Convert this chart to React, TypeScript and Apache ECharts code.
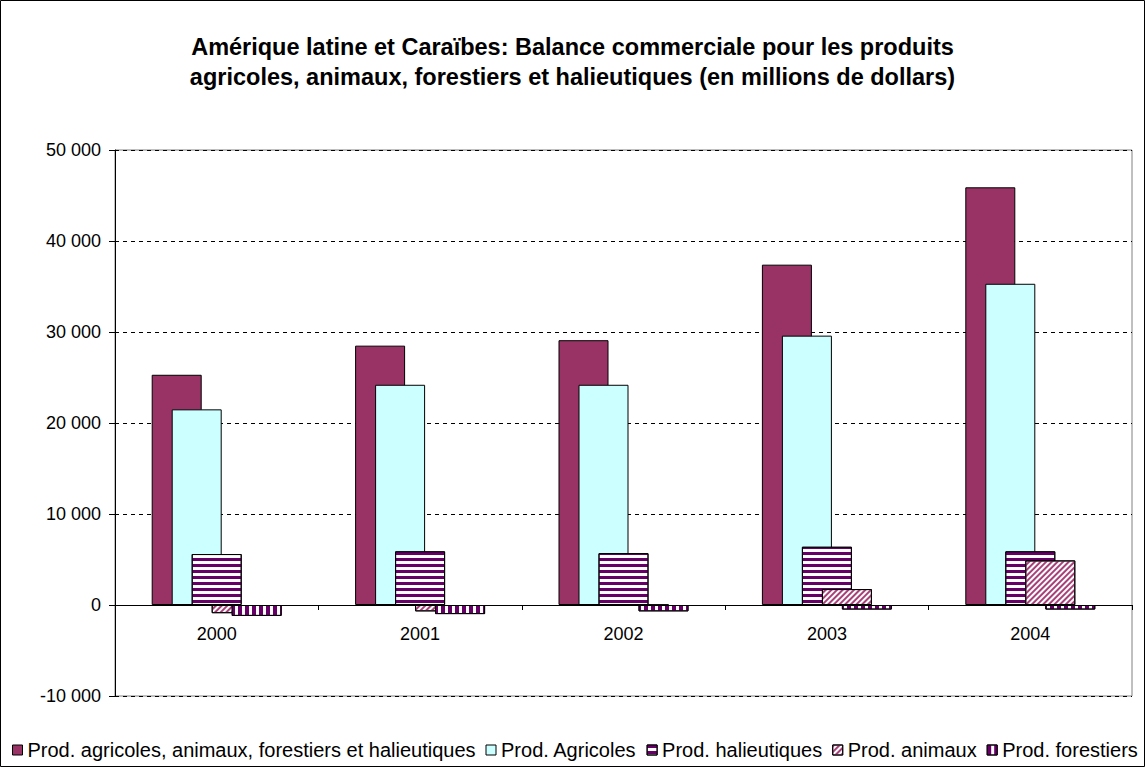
import React, { useEffect, useRef } from "react";
import * as echarts from "echarts";

const years = ["2000", "2001", "2002", "2003", "2004"];
const totalProducts = [25300, 28500, 29100, 37400, 45900];
const agricultural = [21500, 24200, 24200, 29600, 35300];
const fisheries = [5600, 5900, 5700, 6400, 5900];
const animal = [-900, -700, 0, 1750, 4900];
const forestry = [-1200, -1000, -700, -500, -500];

const seriesNames = [
  "Prod. agricoles, animaux, forestiers et halieutiques",
  "Prod. Agricoles",
  "Prod. halieutiques",
  "Prod. animaux",
  "Prod. forestiers",
];

const yMin = -10000;
const yMax = 50000;
const yStep = 10000;

const FONT = "'Liberation Sans', Arial, sans-serif";

function fmt(v: number): string {
  const s = Math.abs(v).toString().replace(/\B(?=(\d{3})+(?!\d))/g, " ");
  return (v < 0 ? "-" : "") + s;
}

export default function App() {
  const ref = useRef<HTMLDivElement>(null);
  useEffect(() => {
    if (!ref.current) return;
    const chart = echarts.init(ref.current, null, { renderer: "svg" });
    const border = { borderColor: "#000", borderWidth: 1 };
    const base = {
      type: "bar" as const,
      barWidth: 50,
      barGap: "-60%",
    };
    chart.setOption({
      animation: false,
      backgroundColor: "#fff",
      title: {
        text:
          "Amérique latine et Caraïbes: Balance commerciale pour les produits\nagricoles, animaux, forestiers et halieutiques (en millions de dollars)",
        left: "center",
        top: 27,
        textStyle: {
          fontFamily: FONT,
          fontSize: 23.5,
          fontWeight: "bold",
          color: "#000",
          lineHeight: 30,
        },
      },
      graphic: [
        {
          type: "rect",
          shape: { x: 0.5, y: 0.5, width: 1144, height: 766 },
          style: { fill: "none", stroke: "#000", lineWidth: 1 },
          silent: true,
        },
      ],
      legend: {
        left: 7,
        top: 735,
        icon: "rect",
        itemWidth: 10,
        itemHeight: 10,
        itemGap: 10,
        textStyle: { fontFamily: FONT, fontSize: 20, color: "#000" },
        itemStyle: { borderColor: "#000", borderWidth: 1 },
        data: seriesNames,
      },
      grid: {
        left: 115,
        right: 13,
        top: 150,
        bottom: 71,
        show: true,
        borderColor: "#808080",
        borderWidth: 1,
        backgroundColor: "#fff",
      },
      xAxis: {
        type: "category",
        data: years,
        axisLine: { onZero: false, lineStyle: { color: "#000", width: 1 } },
        axisTick: { show: true, length: 5, lineStyle: { color: "#000" } },
        axisLabel: { fontFamily: FONT, fontSize: 18, color: "#000", margin: 20 },
      },
      yAxis: {
        type: "value",
        min: yMin,
        max: yMax,
        interval: yStep,
        axisLine: { show: true, lineStyle: { color: "#000" } },
        axisTick: { show: true, length: 6, lineStyle: { color: "#000" } },
        axisLabel: {
          fontFamily: FONT,
          fontSize: 18,
          color: "#000",
          margin: 14,
          formatter: (v: number) => fmt(v),
        },
        splitLine: { show: true, lineStyle: { color: "#000", type: [4, 4], width: 1 } },
      },
      series: [
        {
          ...base,
          name: seriesNames[0],
          data: totalProducts,
          itemStyle: { color: "#993366", ...border },
        },
        {
          ...base,
          name: seriesNames[1],
          data: agricultural,
          itemStyle: { color: "#CCFFFF", ...border },
        },
        {
          ...base,
          name: seriesNames[2],
          data: fisheries,
          itemStyle: {
            color: "#ffffff",
            ...border,
            decal: {
              symbol: "rect",
              symbolSize: 1,
              color: "#660066",
              dashArrayX: [1, 0],
              dashArrayY: [3, 3],
              rotation: 0,
            },
          },
        },
        {
          ...base,
          name: seriesNames[3],
          data: animal,
          itemStyle: {
            color: "#ffffff",
            ...border,
            decal: {
              symbol: "rect",
              symbolSize: 1,
              color: "#A8417A",
              dashArrayX: [1, 0],
              dashArrayY: [2, 2],
              rotation: -Math.PI / 4,
            },
          },
        },
        {
          ...base,
          name: seriesNames[4],
          data: forestry,
          itemStyle: {
            color: "#ffffff",
            ...border,
            decal: {
              symbol: "rect",
              symbolSize: 1,
              color: "#660066",
              dashArrayX: [4, 3],
              dashArrayY: [1, 0],
              rotation: 0,
            },
          },
        },
      ],
    });
    // place the category axis on the zero line (labels included)
    const yZero = chart.convertToPixel({ yAxisIndex: 0 }, 0) as number;
    const yBottom = chart.convertToPixel({ yAxisIndex: 0 }, yMin) as number;
    chart.setOption({ xAxis: { offset: -(yBottom - yZero) } });
    return () => chart.dispose();
  }, []);
  return (
    <div
      ref={ref}
      style={{ position: "fixed", left: 0, top: 0, width: 1145, height: 767 }}
    />
  );
}
